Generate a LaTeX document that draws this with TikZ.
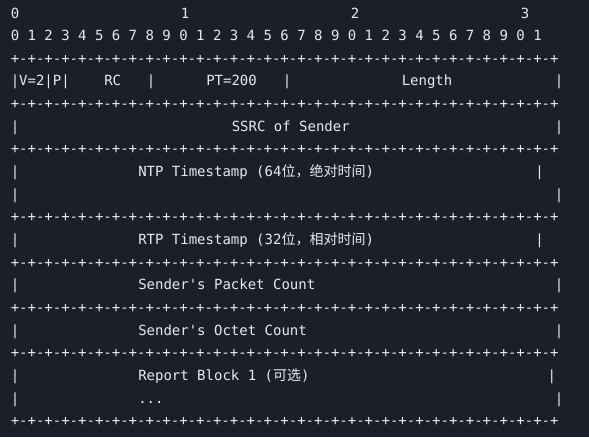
\documentclass[tikz,border=0pt]{standalone}
\usepackage{fontspec}
\setmonofont{DejaVu Sans Mono}
\newfontfamily\cjk{Noto Sans CJK SC}
\definecolor{bgc}{HTML}{1B1F29}
\definecolor{fgc}{HTML}{E8EAEE}
\newcommand\pp{+-+-+-+-+-+-+-+-}
\newcommand\plusrow{\pp\pp\pp\pp+}
\newcommand\cell[4]{\node[txt] (#1) at ({10.75+8.5*#3},{-(18+22.65*#2)}) {#4};}
\begin{document}
\begin{tikzpicture}[x=1pt,y=1pt,
  txt/.style={anchor=base west, inner sep=0pt, outer sep=0pt, text=fgc,
    font=\fontsize{14}{17}\selectfont\ttfamily}]
\fill[bgc] (0,0) rectangle (589,-437);
\useasboundingbox (0,0) rectangle (589,-437);
% bit numbering
\cell{t0}{0}{0}{0}
\cell{t1}{0}{20}{1}
\cell{t2}{0}{40}{2}
\cell{t3}{0}{60}{3}
\cell{bits}{1}{0}{0 1 2 3 4 5 6 7 8 9 0 1 2 3 4 5 6 7 8 9 0 1 2 3 4 5 6 7 8 9 0 1}
% header
\cell{p2}{2}{0}{\plusrow}
\cell{h1}{3}{0}{|V=2|P|}
\cell{h2}{3}{11}{RC}
\cell{h3}{3}{16}{|}
\cell{h4}{3}{23}{PT=200}
\cell{h5}{3}{32}{|}
\cell{h6}{3}{46}{Length}
\cell{h7}{3}{64}{|}
\cell{p4}{4}{0}{\plusrow}
% SSRC
\cell{s1}{5}{0}{|}
\cell{s2}{5}{26}{SSRC of Sender}
\cell{s3}{5}{64}{|}
\cell{p6}{6}{0}{\plusrow}
% NTP
\cell{n1}{7}{0}{|}
\cell{ntp}{7}{15}{NTP Timestamp (64{\cjk 位，绝对时间})}
\node[txt] (n3) at ([xshift=161.5pt]ntp.base east) {|};
\cell{n4}{8}{0}{|}
\cell{n5}{8}{64}{|}
\cell{p9}{9}{0}{\plusrow}
% RTP
\cell{r1}{10}{0}{|}
\cell{rtp}{10}{15}{RTP Timestamp (32{\cjk 位，相对时间})}
\node[txt] (r3) at ([xshift=161.5pt]rtp.base east) {|};
\cell{p11}{11}{0}{\plusrow}
% packet count
\cell{c1}{12}{0}{|}
\cell{c2}{12}{15}{Sender's Packet Count}
\cell{c3}{12}{64}{|}
\cell{p13}{13}{0}{\plusrow}
% octet count
\cell{o1}{14}{0}{|}
\cell{o2}{14}{15}{Sender's Octet Count}
\cell{o3}{14}{64}{|}
\cell{p15}{15}{0}{\plusrow}
% report block
\cell{b1}{16}{0}{|}
\cell{rb}{16}{15}{Report Block 1 ({\cjk 可选})}
\node[txt] (b3) at ([xshift=238pt]rb.base east) {|};
\cell{d1}{17}{0}{|}
\cell{d2}{17}{15}{...}
\cell{d3}{17}{64}{|}
\cell{p18}{18}{0}{\plusrow}
\end{tikzpicture}
\end{document}
